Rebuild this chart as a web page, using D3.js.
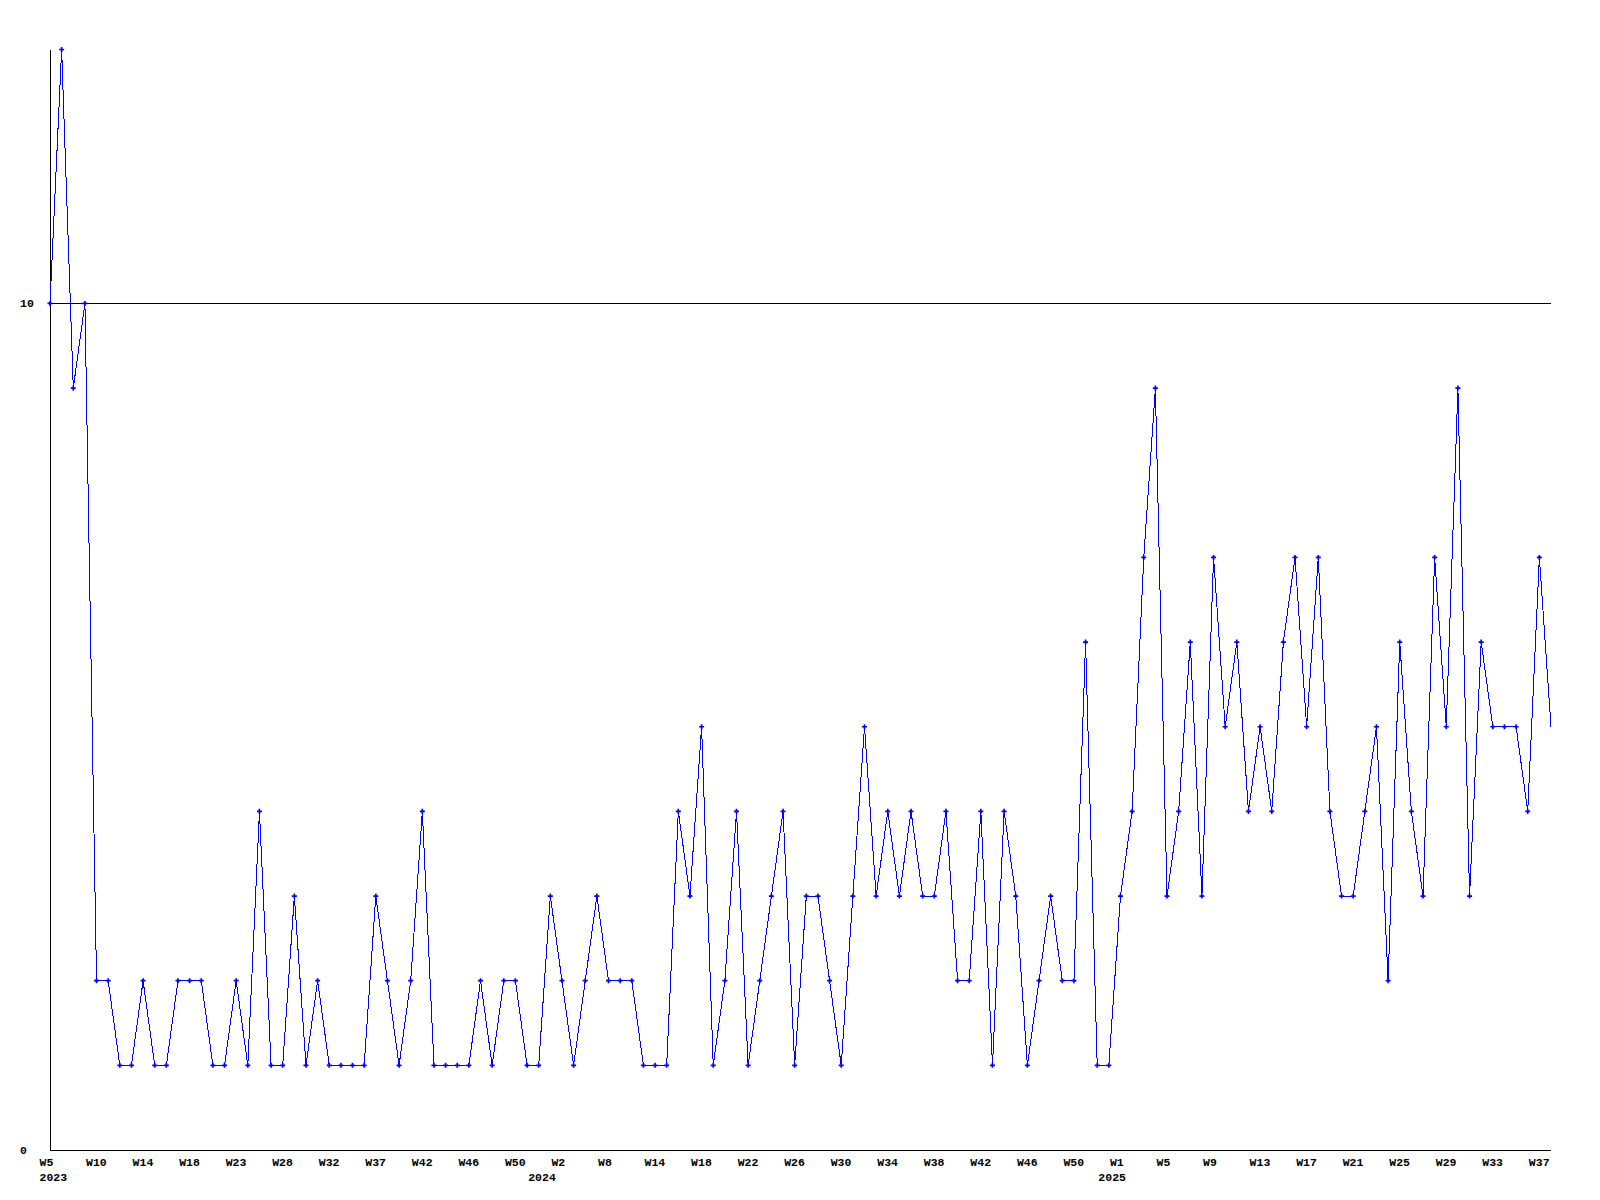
<!DOCTYPE html>
<html>
<head>
<meta charset="utf-8">
<script src="https://cdn.jsdelivr.net/npm/d3@7/dist/d3.min.js"></script>
<style>
  html, body { margin: 0; padding: 0; background: #ffffff; }
  svg { display: block; }
  text { font-family: "Liberation Mono", "DejaVu Sans Mono", monospace; font-weight: bold; font-size: 11.5px; fill: #000; }
</style>
</head>
<body>
<svg id="chart" width="1600" height="1200"></svg>
<script>
// ---- data ----
const values = [
  10,13,9,10,2,2,1,1,2,1,
  1,2,2,2,1,1,2,1,4,1,
  1,3,1,2,1,1,1,1,3,2,
  1,2,4,1,1,1,1,2,1,2,
  2,1,1,3,2,1,2,3,2,2,
  2,1,1,1,4,3,5,1,2,4,
  1,2,3,4,1,3,3,2,1,3,
  5,3,4,3,4,3,3,4,2,2,
  4,1,4,3,1,2,3,2,2,6,
  1,1,3,4,7,9,3,4,6,3,
  7,5,6,4,5,4,6,7,5,7,
  4,3,3,4,5,2,6,4,3,7,
  5,9,3,6,5,5,5,4,7,5
];
const weekLabels = ["W5","W10","W14","W18","W23","W28","W32","W37","W42","W46","W50",
  "W2","W8","W14","W18","W22","W26","W30","W34","W38","W42","W46","W50",
  "W1","W5","W9","W13","W17","W21","W25","W29","W33","W37"];
const labelEvery = 4;
const yearLabels = ["2023","2024","2025"];
const yearLabelIndex = [0, 42, 91];
const yTicks = [0, 10];
const yMax = 13;

// ---- layout ----
const mLeft = 50, mRight = 1551, mTop = 49.5, mBottom = 1150;
const svg = d3.select("#chart");
svg.append("rect").attr("width",1600).attr("height",1200).attr("fill","#fff");

const x = d3.scaleLinear().domain([0, values.length - 1]).range([mLeft, mRight]);
const y = d3.scaleLinear().domain([0, yMax]).range([mBottom, mTop]);

// grid line at 10
svg.append("g").selectAll("line").data(yTicks.filter(t => t > 0)).join("line")
  .attr("x1", mLeft).attr("x2", mRight)
  .attr("y1", d => Math.round(y(d)) + 0.5).attr("y2", d => Math.round(y(d)) + 0.5)
  .attr("stroke", "#000").attr("stroke-width", 1).attr("shape-rendering","crispEdges");

// axes lines
svg.append("line").attr("x1", mLeft + 0.5).attr("x2", mLeft + 0.5).attr("y1", Math.round(mTop)).attr("y2", mBottom + 0.5)
  .attr("stroke","#000").attr("shape-rendering","crispEdges");
svg.append("line").attr("x1", mLeft).attr("x2", mRight).attr("y1", mBottom + 0.5).attr("y2", mBottom + 0.5)
  .attr("stroke","#000").attr("shape-rendering","crispEdges");

// y labels
svg.append("g").selectAll("text").data(yTicks).join("text")
  .attr("x", 20).attr("y", d => y(d)).attr("dy", "0.35em")
  .text(d => d);

// x labels
svg.append("g").selectAll("text").data(weekLabels).join("text")
  .attr("x", (d, i) => x(i * labelEvery) - 10.5)
  .attr("y", 1165.5)
  .text(d => d);

svg.append("g").selectAll("text").data(yearLabels).join("text")
  .attr("x", (d, i) => x(yearLabelIndex[i]) - 10.5)
  .attr("y", 1180.5)
  .text(d => d);

// line
const line = d3.line().x((d, i) => x(i)).y(d => y(d));
svg.append("path").datum(values)
  .attr("d", line)
  .attr("fill","none").attr("stroke","#0000ff").attr("stroke-width",1)
  .attr("shape-rendering","crispEdges");

// markers (all but the last point)
const sym = d3.symbol(d3.symbolCross, 14);
svg.append("g").selectAll("path").data(values.slice(0, values.length - 1)).join("path")
  .attr("transform", (d, i) => `translate(${x(i)},${y(d)})`)
  .attr("d", sym)
  .attr("fill","#0000ff");
</script>
</body>
</html>
